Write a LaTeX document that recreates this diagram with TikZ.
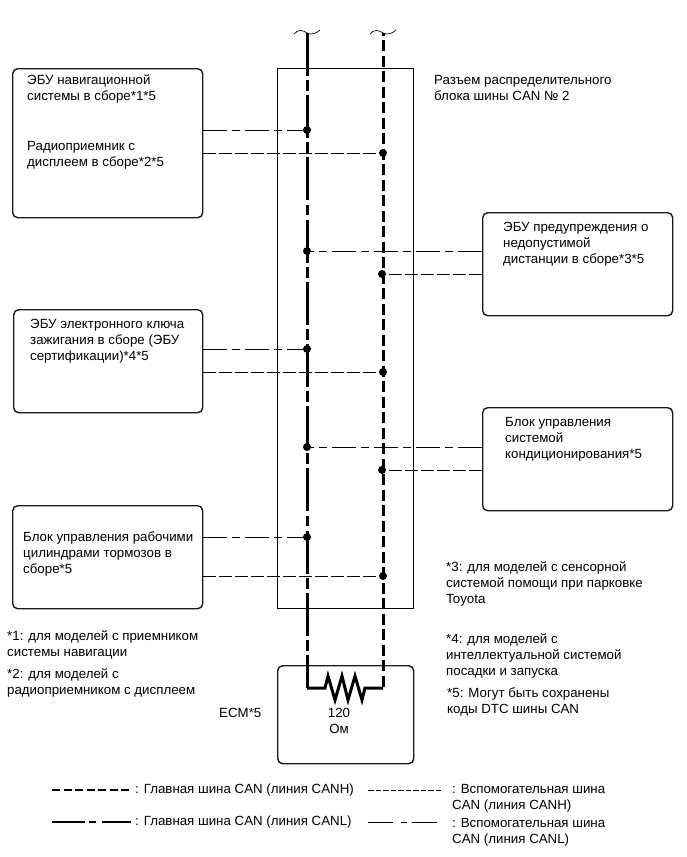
\documentclass[tikz,border=0pt]{standalone}
\usepackage{fontspec}
\setmainfont{Liberation Sans}
\tikzset{
  x=1pt,y=-1pt,
  unit box/.style={draw=black!90,line width=1.4pt,rounded corners=5pt,fill=none,inner sep=0pt,anchor=north west},
  hub box/.style={draw=black,line width=1.4pt,inner sep=0pt,anchor=north west},
  txt/.style={anchor=west,align=left,inner sep=0pt,font=\fontsize{13.3}{16}\selectfont},
  dot/.style={circle,fill=black,inner sep=0pt,minimum size=8pt},
  canl main/.style={line width=3pt,dash pattern=on 43pt off 4.2pt on 10.8pt off 4.2pt},
  canl sub/.style={line width=.8pt,dash pattern=on 24pt off 5pt on 8pt off 5pt},
  canh sub/.style={line width=.8pt,dash pattern=on 13pt off 3pt},
  tilde/.style={line width=.7pt},
}
\begin{document}
\begin{tikzpicture}
\useasboundingbox (0,0) rectangle (687,857);
% boxes
\node[hub box,minimum width=136pt,minimum height=540pt] (hub) at (277,68) {};
\node[unit box,minimum width=190pt,minimum height=149pt] (nav) at (12,68) {};
\node[unit box,minimum width=189pt,minimum height=103pt] (key) at (13,309) {};
\node[unit box,minimum width=190pt,minimum height=103pt] (brk) at (12,505) {};
\node[unit box,minimum width=190pt,minimum height=103pt] (prx) at (482,212) {};
\node[unit box,minimum width=190pt,minimum height=103pt] (ac) at (482,407) {};
\node[unit box,minimum width=136pt,minimum height=98pt] (ecm) at (277,665) {};
% wire ends
\coordinate (htop) at (383,33);
\coordinate (lend) at (307,688);
\coordinate (hend) at (383,688);
\coordinate (r1) at (325,688);
\coordinate (r2) at (365,688);
% main wires
\draw[canl main] (307,33) -- (lend);
\draw[line width=3pt,dash pattern=on 11pt off 4.5pt,dash phase=8.5pt] (htop) -- (hend);
\draw[line width=3pt,miter limit=10,line join=miter] (lend) -- (r1) -- (328,676) -- (335,700) -- (342,676) -- (348,700) -- (355,676) -- (362,700) -- (r2) -- (hend);
% break marks
\draw[tilde] (294,34) .. controls (298,29) and (303,30) .. (307,33) .. controls (311,35) and (316,34) .. (320,30);
\draw[tilde] (370,34) .. controls (374,29) and (379,30) .. (383,33) .. controls (387,35) and (392,34) .. (396,30);
% junctions
\node[dot] (d1l) at (307,130) {};
\node[dot] (d1h) at (383,153) {};
\node[dot] (d2l) at (307,251) {};
\node[dot] (d2h) at (382,274) {};
\node[dot] (d3l) at (307,349) {};
\node[dot] (d3h) at (383,372) {};
\node[dot] (d4l) at (307,447) {};
\node[dot] (d4h) at (382,470) {};
\node[dot] (d5l) at (307,537) {};
\node[dot] (d5h) at (383,576) {};
% stubs
\draw[canl sub] (nav.east |- d1l) -- (d1l);
\draw[canh sub] (nav.east |- d1h) -- (d1h);
\draw[canl sub] (key.east |- d3l) -- (d3l);
\draw[canh sub] (key.east |- d3h) -- (d3h);
\draw[canl sub] (brk.east |- d5l) -- (d5l);
\draw[canh sub] (brk.east |- d5h) -- (d5h);
\draw[canl sub] (prx.west |- d2l) -- (d2l);
\draw[canh sub] (prx.west |- d2h) -- (d2h);
\draw[canl sub] (ac.west |- d4l) -- (d4l);
\draw[canh sub] (ac.west |- d4h) -- (d4h);
% texts
\node[txt] (t1) at (27,88.5) {ЭБУ навигационной\\системы в сборе*1*5};
\node[txt] (t2) at (27,155.5) {Радиоприемник с\\дисплеем в сборе*2*5};
\node[txt] (t3) at (30,341.5) {ЭБУ электронного ключа\\зажигания в сборе (ЭБУ\\сертификации)*4*5};
\node[txt] (t4) at (23,554) {Блок управления рабочими\\цилиндрами тормозов в\\сборе*5};
\node[txt] (t5) at (503,244.5) {ЭБУ предупреждения о\\недопустимой\\дистанции в сборе*3*5};
\node[txt] (t6) at (505,439.5) {Блок управления\\системой\\кондиционирования*5};
\node[txt] (t7) at (434,88) {Разъем распределительного\\блока шины CAN № 2};
\node[txt] (t8) at (446,583.5) {*3: для моделей с сенсорной\\системой помощи при парковке\\Toyota};
\node[txt] (t9) at (446,656) {*4: для моделей с\\интеллектуальной системой\\посадки и запуска};
\node[txt] (t10) at (447,701.5) {*5: Могут быть сохранены\\коды DTC шины CAN};
\node[txt] (t11) at (7,645) {*1: для моделей с приемником\\системы навигации};
\node[txt] (t12) at (7,683) {*2: для моделей с\\радиоприемником с дисплеем};
\node[txt] (t13) at (219,713) {ECM*5};
\node[txt,anchor=center,align=center] (t14) at (339,721) {120\\Ом};
% legend
\coordinate (a1) at (52,790); \coordinate (a2) at (131,790);
\coordinate (b1) at (52,822); \coordinate (b2) at (131,822);
\coordinate (c1) at (368,790); \coordinate (c2) at (442,790);
\coordinate (e1) at (368,822); \coordinate (e2) at (442,822);
\draw[line width=2.6pt,dash pattern=on 8pt off 3.5pt] (a1) -- (a2);
\draw[line width=2.6pt,dash pattern=on 33pt off 4pt on 7pt off 6pt] (b1) -- (b2);
\draw[line width=.7pt,dash pattern=on 5.5pt off 2pt] (c1) -- (c2);
\draw[line width=.7pt,dash pattern=on 25pt off 8pt on 6pt off 5pt] (e1) -- (e2);
\node[txt] (l1) at (135,790) {: Главная шина CAN (линия CANH)};
\node[txt] (l2) at (135,822) {: Главная шина CAN (линия CANL)};
\node[txt] (l3) at (452,798.5) {: Вспомогательная шина\\CAN (линия CANH)};
\node[txt] (l4) at (452,832) {: Вспомогательная шина\\CAN (линия CANL)};
\end{tikzpicture}
\end{document}
